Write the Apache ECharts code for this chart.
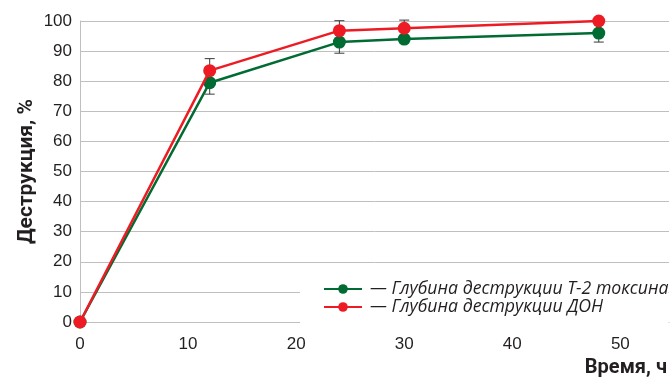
<!DOCTYPE html>
<html><head><meta charset="utf-8">
<script src="https://cdn.jsdelivr.net/npm/echarts@6/dist/echarts.min.js"></script>
<style>html,body{margin:0;padding:0;background:#fff}#c{width:670px;height:378px}</style>
</head><body><div id="c"></div>
<script>
const hours = [0, 12, 24, 30, 48];
const t2Values = [0, 79.5, 93, 94, 96];
const donValues = [0, 83.5, 96.8, 97.6, 100];
const t2Errors = [0, 3.8, 3.7, 1, 3];
const donErrors = [0, 4, 3.3, 2.7, 0];
const xTicks = [0, 10, 20, 30, 40, 50];
const yTicks = [0, 10, 20, 30, 40, 50, 60, 70, 80, 90, 100];
const seriesNames = ['— Глубина деструкции Т-2 токсина', '— Глубина деструкции ДОН'];

const GREEN = '#006b33', RED = '#ed1c24';
const errData = [];
hours.forEach((h, i) => {
  errData.push([h, t2Values[i] - t2Errors[i], t2Values[i] + t2Errors[i]]);
  errData.push([h, donValues[i] - donErrors[i], donValues[i] + donErrors[i]]);
});

const chart = echarts.init(document.getElementById('c'));
chart.setOption({
  animation: false,
  grid: {left: 80, right: 0, top: 21, bottom: 55, containLabel: false},
  xAxis: {
    type: 'value', min: 0, max: 54.5, interval: 10,
    axisLine: {show: true, lineStyle: {color: '#bfbfbf', width: 1}},
    axisTick: {show: false},
    splitLine: {show: false},
    axisLabel: {
      color: '#231f20', fontFamily: 'Liberation Sans', fontSize: 17, margin: 14,
      showMaxLabel: false,
      formatter: v => xTicks.includes(v) ? String(v) : ''
    },
    name: 'Время, ч', nameLocation: 'end', nameGap: -2, nameMoveOverlap: false,
    nameTextStyle: {color: '#231f20', fontFamily: 'Roboto', fontWeight: 'bold', fontSize: 20,
      align: 'right', verticalAlign: 'top', padding: [36, 0, 0, 0]}
  },
  yAxis: {
    type: 'value', min: 0, max: 100, interval: 10,
    axisLine: {show: true, lineStyle: {color: '#bfbfbf', width: 1}},
    axisTick: {show: false},
    splitLine: {show: true, lineStyle: {color: '#bfbfbf', width: 1}},
    axisLabel: {
      color: '#231f20', fontFamily: 'Liberation Sans', fontSize: 17, margin: 8,
      formatter: v => yTicks.includes(v) ? String(v) : ''
    },
    name: 'Деструкция, %', nameLocation: 'middle', nameRotate: 90, nameGap: 43, nameMoveOverlap: false,
    nameTextStyle: {color: '#231f20', fontFamily: 'Roboto', fontWeight: 'bold', fontSize: 21}
  },
  legend: {
    orient: 'vertical', left: 300, top: 268,
    padding: [12, 0, 9, 23],
    backgroundColor: '#ffffff',
    itemWidth: 38, itemHeight: 12, itemGap: 0,
    data: seriesNames,
    textStyle: {color: '#231f20', fontFamily: 'Open Sans', fontStyle: 'italic', fontSize: 17.7, padding: [0, 0, 0, 3]}
  },
  series: [
    {
      type: 'custom', name: 'err', z: 1, silent: true,
      data: errData,
      renderItem: (params, api) => {
        const x = api.value(0);
        const lo = api.coord([x, api.value(1)]);
        const hi = api.coord([x, api.value(2)]);
        const w = 5;
        const st = {stroke: '#3a3a3a', lineWidth: 1};
        return {type: 'group', children: [
          {type: 'line', shape: {x1: lo[0], y1: lo[1], x2: hi[0], y2: hi[1]}, style: st},
          {type: 'line', shape: {x1: lo[0] - w, y1: lo[1], x2: lo[0] + w, y2: lo[1]}, style: st},
          {type: 'line', shape: {x1: hi[0] - w, y1: hi[1], x2: hi[0] + w, y2: hi[1]}, style: st}
        ]};
      }
    },
    {
      type: 'line', name: seriesNames[0], z: 3,
      data: hours.map((h, i) => [h, t2Values[i]]),
      symbol: 'circle', symbolSize: 13,
      lineStyle: {color: GREEN, width: 2.5},
      itemStyle: {color: GREEN}
    },
    {
      type: 'line', name: seriesNames[1], z: 4,
      data: hours.map((h, i) => [h, donValues[i]]),
      symbol: 'circle', symbolSize: 13,
      lineStyle: {color: RED, width: 2.5},
      itemStyle: {color: RED}
    }
  ]
});
</script></body></html>
